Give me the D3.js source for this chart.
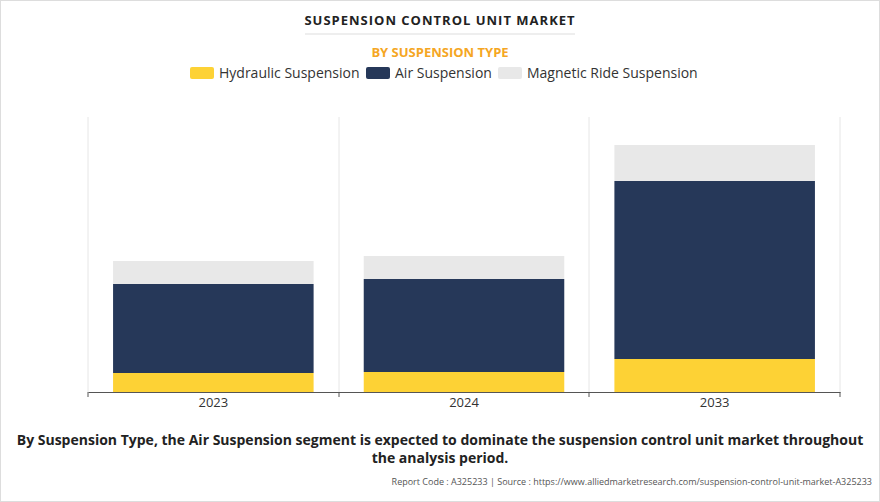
<!DOCTYPE html>
<html><head><meta charset="utf-8">
<script src="https://cdn.jsdelivr.net/npm/d3@7"></script>
<style>body{margin:0;background:#fff}svg{font-family:"Open Sans",Arial,sans-serif}</style>
</head><body>
<svg id="c" width="880" height="502"></svg>
<script>
const categories = ["2023", "2024", "2033"];
const seriesNames = ["Hydraulic Suspension", "Air Suspension", "Magnetic Ride Suspension"];
const hydraulic = [19, 20, 33];
const air = [89, 93, 178];
const magnetic = [23, 23, 36];
const colors = ["#FDD235", "#263859", "#E8E8E8"];

const svg = d3.select("#c");
svg.append("rect").attr("x",0.5).attr("y",0.5).attr("width",879).attr("height",501).attr("fill","#fff").attr("stroke","#ddd");

const data = categories.map((c,i)=>({cat:c, h:hydraulic[i], a:air[i], m:magnetic[i]}));
const stack = d3.stack().keys(["h","a","m"])(data);

const x = d3.scaleBand().domain(categories).range([88,840]).paddingInner(0.2).paddingOuter(0.1);
const y = d3.scaleLinear().domain([0,275]).range([392,117]);

// vertical grid lines
const edges = [88, 339, 589, 840];
svg.selectAll(".g").data(edges).enter().append("line")
  .attr("x1",d=>d).attr("x2",d=>d).attr("y1",117).attr("y2",392).attr("stroke","#e6e6e6");

svg.append("g").selectAll("g").data(stack).enter().append("g")
  .attr("fill",(d,i)=>colors[i])
  .selectAll("rect").data(d=>d).enter().append("rect")
  .attr("x",d=>x(d.data.cat)).attr("width",x.bandwidth())
  .attr("y",d=>y(d[1])).attr("height",d=>y(d[0])-y(d[1]));

const ax = svg.append("g").attr("transform","translate(0,392)").call(d3.axisBottom(x).tickSize(0).tickPadding(6));
ax.select(".domain").attr("stroke","#555");
ax.selectAll("text").attr("font-size",13).attr("fill","#333").attr("font-family","Open Sans, Arial, sans-serif");
svg.selectAll(".t").data(edges).enter().append("line").attr("x1",d=>d).attr("x2",d=>d).attr("y1",392).attr("y2",397).attr("stroke","#555");

svg.append("text").attr("x",440).attr("y",25).attr("text-anchor","middle").attr("font-size",13).attr("font-weight","bold").attr("letter-spacing","1").attr("fill","#222").text("SUSPENSION CONTROL UNIT MARKET");
svg.append("line").attr("x1",305).attr("x2",575).attr("y1",34).attr("y2",34).attr("stroke","#ddd");
svg.append("text").attr("x",440).attr("y",57).attr("text-anchor","middle").attr("font-size",13).attr("font-weight","bold").attr("fill","#F5A623").text("BY SUSPENSION TYPE");

const legX = [190, 366, 498];
seriesNames.forEach((n,i)=>{
  svg.append("rect").attr("x",legX[i]).attr("y",67).attr("width",24).attr("height",12).attr("rx",2).attr("fill",colors[i]);
  svg.append("text").attr("x",legX[i]+29).attr("y",78).attr("font-size",14).attr("fill","#333").text(n);
});

svg.append("text").attr("x",440).attr("y",445).attr("text-anchor","middle").attr("font-size",14).attr("font-weight","bold").attr("fill","#222").text("By Suspension Type, the Air Suspension segment is expected to dominate the suspension control unit market throughout");
svg.append("text").attr("x",440).attr("y",463).attr("text-anchor","middle").attr("font-size",14).attr("font-weight","bold").attr("fill","#222").text("the analysis period.");
svg.append("text").attr("x",872).attr("y",485).attr("text-anchor","end").attr("font-size",9).attr("fill","#555").text("Report Code : A325233  |  Source : https://www.alliedmarketresearch.com/suspension-control-unit-market-A325233");
</script>
</body></html>
